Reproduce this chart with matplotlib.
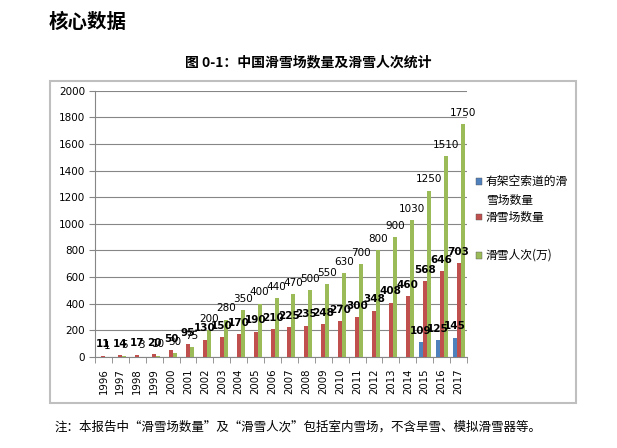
import numpy as np
import matplotlib
matplotlib.use("Agg")
import matplotlib.pyplot as plt
from matplotlib.patches import Rectangle

plt.rcParams['font.family'] = ['DejaVu Sans', 'Noto Sans CJK SC']

years = [str(y) for y in range(1996, 2018)]
series_names = ["有架空索道的滑\n雪场数量", "滑雪场数量", "滑雪人次(万)"]
cable_resorts = [None] * 19 + [109, 125, 145]
resorts = [11, 14, 17, 20, 50, 95, 130, 150, 170, 190, 210, 225, 235, 248, 270,
           300, 348, 408, 460, 568, 646, 703]
visits = [1, 5, 3, 10, 30, 75, 200, 280, 350, 400, 440, 470, 500, 550, 630,
          700, 800, 900, 1030, 1250, 1510, 1750]
yticks = [0, 200, 400, 600, 800, 1000, 1200, 1400, 1600, 1800, 2000]

colors = ["#4F81BD", "#C0504D", "#9BBB59"]
W, H = 617, 448
fig = plt.figure(figsize=(W / 100, H / 100), dpi=100)

def fx(px):
    return px / W

def fy(py):
    return 1 - py / H

cjk = ['Noto Sans CJK SC', 'DejaVu Sans']

fig.text(fx(49), fy(22), "核心数据", fontsize=14, fontweight='bold',
         family=cjk, ha='left', va='center')
fig.text(fx(308), fy(62), "图 0-1：中国滑雪场数量及滑雪人次统计", fontsize=10,
         fontweight='bold', family=cjk, ha='center', va='center')
fig.text(fx(54), fy(427), "注：本报告中“滑雪场数量”及“滑雪人次”包括室内雪场，不含旱雪、模拟滑雪器等。",
         fontsize=9, family=cjk, ha='left', va='center')

# chart frame
fig.patches.append(Rectangle((fx(50), fy(403)), fx(576) - fx(50), fy(81) - fy(403),
                             transform=fig.transFigure, fill=False,
                             edgecolor="#BFBFBF", linewidth=1.5))

x0, x1, ytop, ybot = 95, 467, 90.7, 357
ax = fig.add_axes([fx(x0), fy(ybot), fx(x1) - fx(x0), fy(ytop) - fy(ybot)])

n = len(years)
x = np.arange(n)
bw = 0.235
vals = [np.array([np.nan if v is None else v for v in cable_resorts], dtype=float),
        np.array(resorts, dtype=float), np.array(visits, dtype=float)]
offsets = [-bw, 0, bw]
weights = ['bold', 'bold', 'normal']
for v, off, c, wgt in zip(vals, offsets, colors, weights):
    ax.bar(x + off, v, width=bw, color=c, edgecolor='none', zorder=3)
    for xi, vi in zip(x, v):
        if np.isnan(vi):
            continue
        ax.annotate(f"{int(vi)}", (xi + off, vi), xytext=(0, 4.5),
                    textcoords='offset points', ha='center', va='bottom',
                    fontsize=7.5, fontweight=wgt, color='black', zorder=5)

ax.set_xlim(-0.5, n - 0.5)
ax.set_ylim(0, 2000)
ax.set_yticks(yticks)
ax.set_yticklabels([str(t) for t in yticks], fontsize=7.5)
ax.yaxis.grid(True, color="#868686", linewidth=0.8, zorder=0)
ax.set_axisbelow(True)
ax.set_xticks(x)
ax.set_xticklabels(years, rotation=90, fontsize=7.3)
ax.tick_params(axis='x', length=0, pad=8)
ax.set_xticks(np.arange(-0.5, n, 1), minor=True)
ax.tick_params(axis='x', which='minor', length=4, color="#868686")
ax.tick_params(axis='y', length=4, color="#868686", pad=3)
for s in ['top', 'right']:
    ax.spines[s].set_visible(False)
for s in ['left', 'bottom']:
    ax.spines[s].set_color("#868686")
    ax.spines[s].set_linewidth(0.8)

# legend (manual placement)
leg_y = [181, 217, 255]
for name, c, yy in zip(series_names, colors, leg_y):
    fig.patches.append(Rectangle((fx(475.5), fy(yy + 3.5)), fx(6.5), 6.5 / H,
                                 transform=fig.transFigure, facecolor=c,
                                 edgecolor='#555555', linewidth=0.3))
    for k, ln in enumerate(name.split("\n")):
        fig.text(fx(486), fy(yy + k * 19.5), ln, fontsize=8.5, family=cjk,
                 ha='left', va='center')

fig.savefig("out.png", dpi=100)
